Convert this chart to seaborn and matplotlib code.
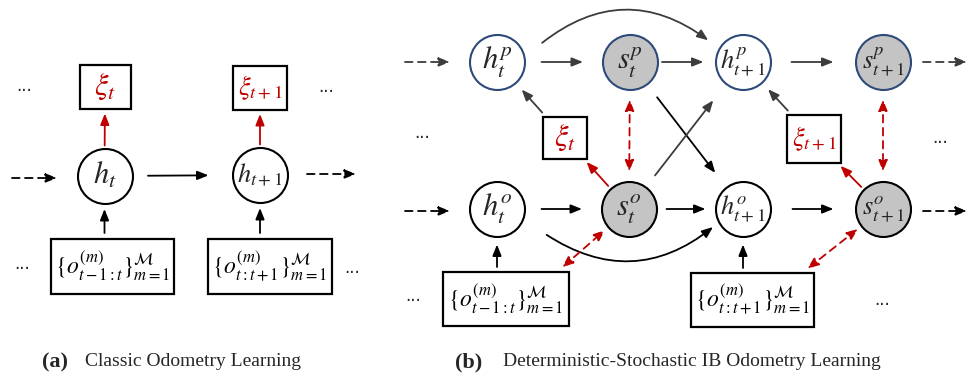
import numpy as np
import pandas as pd
import matplotlib
matplotlib.use("Agg")
import matplotlib.pyplot as plt
from matplotlib.patches import Rectangle, FancyArrowPatch
import seaborn as sns

sns.set_theme(style="white")
plt.rcParams["font.family"] = ["Liberation Serif", "DejaVu Serif"]
plt.rcParams["mathtext.fontset"] = "stix"

W, H = 968, 379
RED = "#c00000"
NAVY = "#2e4a7a"
GREY_FILL = "#c4c4c4"
DARK = "#3c3c3c"
R = 27.5  # node radius (canvas units)

# ---- graph nodes: name, x, y, label, fill, edge -----------------------------
node_names = ["ha0", "ha1",
              "hp0", "sp0", "hp1", "sp1",
              "ho0", "so0", "ho1", "so1"]
node_x = [104.5, 260, 497, 630, 743, 883, 497, 629, 743, 883]
node_y = [176, 175, 62, 62, 62, 62, 209, 209, 209, 209]
node_labels = [r"$h_t$", r"$h_{t+1}$",
               r"$h_t^p$", r"$s_t^p$", r"$h_{t+1}^p$", r"$s_{t+1}^p$",
               r"$h_t^o$", r"$s_t^o$", r"$h_{t+1}^o$", r"$s_{t+1}^o$"]
node_fill = ["white", "white",
             "white", GREY_FILL, "white", GREY_FILL,
             "white", GREY_FILL, "white", GREY_FILL]
node_edge = ["black", "black",
             NAVY, NAVY, NAVY, NAVY,
             "black", "black", "black", "black"]

# ---- rectangular nodes: name, x, y, w, h, label, colour ------------------
box_names = ["xa0", "xa1", "oa0", "oa1", "xb0", "xb1", "ob0", "ob1"]
box_x = [105, 260, 112.5, 270, 565, 814, 506, 752.5]
box_y = [87, 87.5, 266.5, 266.5, 138, 139, 299, 300]
box_w = [51, 54, 123, 124, 44, 54, 126, 123]
box_h = [44, 44, 55, 55, 42, 48, 54, 54]
box_labels = [r"$\xi_t$", r"$\xi_{t+1}$",
              r"$\{o_{t-1:t}^{(m)}\}_{m=1}^{\mathcal{M}}$",
              r"$\{o_{t:t+1}^{(m)}\}_{m=1}^{\mathcal{M}}$",
              r"$\xi_t$", r"$\xi_{t+1}$",
              r"$\{o_{t-1:t}^{(m)}\}_{m=1}^{\mathcal{M}}$",
              r"$\{o_{t:t+1}^{(m)}\}_{m=1}^{\mathcal{M}}$"]
box_color = [RED, RED, "black", "black", RED, RED, "black", "black"]

nodes = pd.DataFrame({"name": node_names, "x": node_x, "y": node_y,
                      "label": node_labels, "fill": node_fill,
                      "edge": node_edge}).set_index("name", drop=False)
boxes = pd.DataFrame({"name": box_names, "x": box_x, "y": box_y, "w": box_w,
                      "h": box_h, "label": box_labels,
                      "color": box_color}).set_index("name", drop=False)

fig = plt.figure(figsize=(W / 100, H / 100), dpi=100)
ax = fig.add_axes([0, 0, 1, 1])
ax.set_xlim(0, W)
ax.set_ylim(H, 0)
ax.axis("off")


def center(name):
    if name in nodes.index:
        return np.array([nodes.at[name, "x"], nodes.at[name, "y"]], float)
    return np.array([boxes.at[name, "x"], boxes.at[name, "y"]], float)


def exit_point(name, p, q, gap):
    """Point where the ray p->q leaves the shape `name`, pushed out by gap."""
    p = np.asarray(p, float)
    q = np.asarray(q, float)
    d = (q - p) / np.linalg.norm(q - p)
    if name in nodes.index:
        c = center(name)
        f = p - c
        b = f @ d
        cc = f @ f - R ** 2
        t = -b + np.sqrt(max(b * b - cc, 0.0))
    else:
        c = center(name)
        hw, hh = boxes.at[name, "w"] / 2, boxes.at[name, "h"] / 2
        ts = []
        for k, half in ((0, hw), (1, hh)):
            if abs(d[k]) > 1e-9:
                ts.append(((c[k] + np.sign(d[k]) * half) - p[k]) / d[k])
        t = max(min(ts), 0.0)
    return p + d * (t + gap)


def circle_point(name, angle, gap):
    c = center(name)
    a = np.deg2rad(angle)
    return c + (R + gap) * np.array([np.cos(a), -np.sin(a)])


def arrow(p, q, color="black", dashed=False, both=False, rad=0.0, lw=1.3):
    style = "<|-|>" if both else "-|>"
    style += ",head_length=0.55,head_width=0.22"
    ls = (0, (4.2, 3.0)) if dashed else "-"
    ap = FancyArrowPatch(p, q, arrowstyle=style, mutation_scale=12,
                         color=color, lw=lw, linestyle=ls,
                         shrinkA=0, shrinkB=0,
                         connectionstyle=f"arc3,rad={rad}", zorder=1)
    ax.add_patch(ap)


def link(a, b, ga, gb, **kw):
    pa, pb = center(a), center(b)
    arrow(exit_point(a, pa, pb, ga), exit_point(b, pb, pa, gb), **kw)


def vertical(box, node, ga, gb, **kw):
    nx, ny = center(node)
    _, by = center(box)
    top = by - boxes.at[box, "h"] / 2
    arrow((nx, top - ga), (nx, ny + R + gb), **kw)


# ---- circles via seaborn scatter -------------------------------------------
for (fill, edge), grp in nodes.groupby(["fill", "edge"]):
    sns.scatterplot(data=grp, x="x", y="y", s=(2 * R * 0.72) ** 2,
                    color=fill, edgecolor=edge, linewidth=1.5,
                    legend=False, ax=ax, zorder=3)
for _, r in nodes.iterrows():
    fs = 19 if "t+1" in r.label else 22
    ax.text(r.x, r.y, r.label, ha="center", va="center", fontsize=fs,
            zorder=4)

# ---- boxes -----------------------------------------------------------------
for _, b in boxes.iterrows():
    ax.add_patch(Rectangle((b.x - b.w / 2, b.y - b.h / 2), b.w, b.h,
                           facecolor="white", edgecolor="black", lw=1.6,
                           zorder=2))
    if b.color == RED:
        fs = 19 if "t+1" in b.label else 22
    else:
        fs = 17
    ax.text(b.x, b.y, b.label, ha="center", va="center", fontsize=fs,
            color=b.color, zorder=4)

# ---- panel (a) edges -------------------------------------------------------
link("ha0", "xa0", 3, 4.5, color=RED)
link("ha1", "xa1", 3, 4.5, color=RED)
link("ha0", "ha1", 16, 24)
vertical("oa0", "ha0", 6, 5.5)
vertical("oa1", "ha1", 6, 5.5)
arrow((12, 178), (57, 178), dashed=True)
arrow((307, 174), (356, 174), dashed=True)

# ---- panel (b) edges -------------------------------------------------------
for y, col in ((62, DARK), (211, "black")):
    arrow((405, y), (450, y), color=col, dashed=True)
    arrow((923, y), (967, y), color=col, dashed=True)
link("hp0", "sp0", 17, 19.5, color=DARK)
link("sp0", "hp1", 4.5, 12, color=DARK)
link("hp1", "sp1", 21, 22, color=DARK)
link("ho0", "so0", 17, 19.5)
link("so0", "ho1", 10, 10)
link("ho1", "so1", 22, 22)

# skip connections over the stochastic states
arrow(circle_point("hp0", 23, 21.5), circle_point("hp1", 148, 13.5),
      color=DARK, rad=-0.38)
arrow(circle_point("ho0", -27.5, 28.5), circle_point("ho1", -149, 7.5),
      rad=0.36)

# cross links between the two streams
link("sp0", "ho1", 17, 18)
link("so0", "hp1", 15, 21, color=DARK)

# pose outputs fed back into the pose stream
link("xb0", "hp0", 6, 9.5, color=DARK)
link("xb1", "hp1", 6, 9.5, color=DARK)
link("so0", "xb0", 3.5, 4, color=RED)
link("so1", "xb1", 3.5, 4, color=RED)

# information-bottleneck couplings
link("sp0", "so0", 10, 10, color=RED, dashed=True, both=True)
link("sp1", "so1", 10, 10, color=RED, dashed=True, both=True)
for bx, nd in (("ob0", "so0"), ("ob1", "so1")):
    c = center(bx)
    corner = c + np.array([boxes.at[bx, "w"] / 2 - 12, -boxes.at[bx, "h"] / 2])
    p = corner + (center(nd) - corner) / np.linalg.norm(center(nd) - corner) * 7
    arrow(p, exit_point(nd, center(nd), corner, 4.5), color=RED,
          dashed=True, both=True)

vertical("ob0", "ho0", 5, 8)
vertical("ob1", "ho1", 5, 8)

# ---- ellipses ----------------------------------------------------------------
dots_x = [24, 326, 22, 352, 422, 940, 413, 882]
dots_y = [86, 87, 264, 268, 133, 138, 296, 300]
for x, y in zip(dots_x, dots_y):
    ax.text(x, y, "...", ha="center", va="center", fontsize=12,
            family="DejaVu Sans")

# ---- captions ------------------------------------------------------------
ax.text(55, 362, "(a)", ha="center", va="center", fontsize=16,
        fontweight="bold")
ax.text(85, 362, "Classic Odometry Learning", ha="left", va="center",
        fontsize=14)
ax.text(469, 362, "(b)", ha="center", va="center", fontsize=16,
        fontweight="bold")
ax.text(503, 362, "Deterministic-Stochastic IB Odometry Learning",
        ha="left", va="center", fontsize=14)

fig.savefig("out.png", dpi=100)
